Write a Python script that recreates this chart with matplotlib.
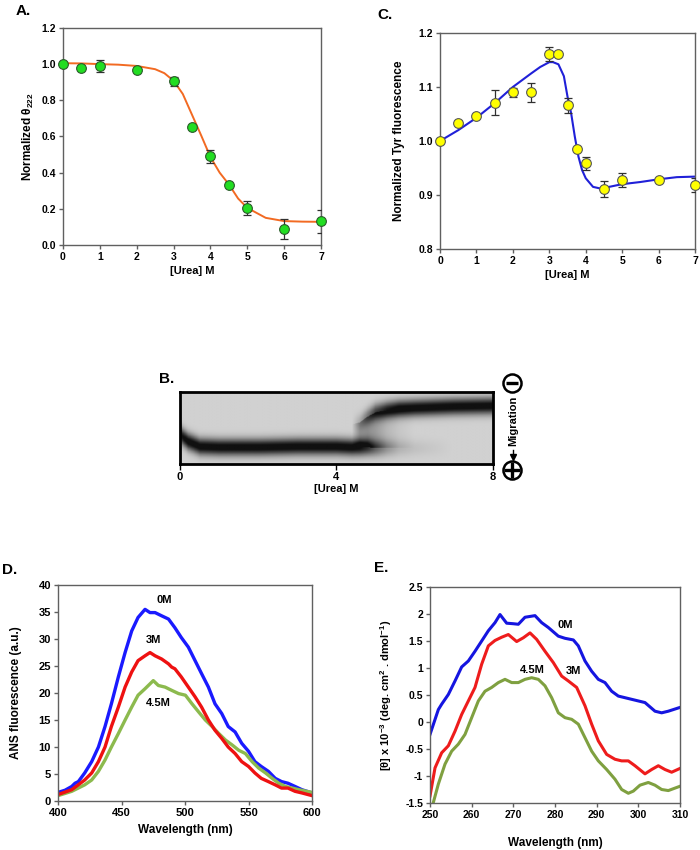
import matplotlib
matplotlib.use("Agg")
import matplotlib.pyplot as plt
import numpy as np

plt.rcParams['font.family'] = ['Liberation Sans', 'DejaVu Sans']
plt.rcParams['font.weight'] = 'bold'
plt.rcParams['axes.unicode_minus'] = False
plt.rcParams['mathtext.fontset'] = 'custom'
plt.rcParams['mathtext.rm'] = 'Liberation Sans'
plt.rcParams['mathtext.bf'] = 'Liberation Sans:bold'

################### Dados ###################

# A. CD 222 nm
a_urea = [0, 0.5, 1, 2, 3, 3.5, 4, 4.5, 5, 6, 7]
a_theta = [1.0, 0.98, 0.99, 0.97, 0.905, 0.65, 0.49, 0.33, 0.205, 0.09, 0.13]
a_err = [0, 0, 0.035, 0, 0.025, 0, 0.035, 0, 0.04, 0.055, 0.065]
a_fit_x = [0, 0.5, 1, 1.5, 2, 2.5, 2.75, 3, 3.25, 3.5, 3.75, 4, 4.25, 4.5, 4.75, 5, 5.5, 6, 6.5, 7]
a_fit_y = [1.005, 1.004, 1.0, 0.997, 0.99, 0.972, 0.95, 0.908, 0.835, 0.72, 0.605, 0.486, 0.40, 0.335, 0.257, 0.205, 0.15, 0.132, 0.129, 0.128]

# C. Tyr fluorescence
c_urea = [0, 0.5, 1, 1.5, 2, 2.5, 3, 3.25, 3.5, 3.75, 4, 4.5, 5, 6, 7]
c_fluo = [1.0, 1.034, 1.047, 1.071, 1.09, 1.09, 1.161, 1.161, 1.066, 0.986, 0.959, 0.911, 0.928, 0.928, 0.918]
c_err = [0, 0, 0, 0.023, 0.008, 0.018, 0.013, 0, 0.014, 0, 0.012, 0.015, 0.013, 0, 0.013]
c_fit_x = [0, 0.5, 1, 1.5, 2, 2.5, 2.75, 3, 3.1, 3.25, 3.4, 3.5, 3.6, 3.7, 3.8, 3.9, 4.0, 4.2, 4.4, 4.5, 5, 5.5, 6, 6.5, 7]
c_fit_y = [1.0, 1.02, 1.043, 1.07, 1.10, 1.125, 1.137, 1.146, 1.146, 1.142, 1.12, 1.082, 1.051, 1.008, 0.971, 0.946, 0.931, 0.915, 0.912, 0.913, 0.92, 0.924, 0.929, 0.933, 0.934]

# B. Gel (posicao relativa das bandas por concentracao de ureia)
gel_urea = [0, 0.2, 0.5, 1, 2, 3, 4, 4.4, 4.6, 4.8, 5.0, 5.3, 5.6, 6, 7, 8]
lower_pos = [0.60, 0.69, 0.76, 0.77, 0.77, 0.76, 0.76, 0.77, 0.77, 0.77, 0.78, 0.78, 0.78, 0.78, 0.78, 0.78]
lower_int = [0.9, 1.0, 1.0, 1.0, 1.0, 1.0, 1.0, 1.0, 0.95, 0.8, 0.55, 0.3, 0.15, 0.08, 0.0, 0.0]
upper_pos = [0.45, 0.45, 0.45, 0.45, 0.45, 0.45, 0.45, 0.45, 0.42, 0.34, 0.28, 0.25, 0.23, 0.22, 0.20, 0.19]
upper_int = [0, 0, 0, 0, 0, 0, 0, 0, 0.2, 0.45, 0.7, 0.9, 1.0, 1.0, 1.0, 1.0]
smear_int = [0, 0, 0, 0, 0, 0, 0, 0, 0.25, 0.3, 0.25, 0.12, 0.05, 0, 0, 0]

# D. ANS fluorescence
d_wl_0 = [400, 405.5, 410.8, 413.4, 416, 421, 426.5, 431.8, 437, 442, 447.5, 452.8, 458, 463, 468.5, 472.4, 476.4, 481.6, 487, 492, 497, 502.6, 507.9, 513, 518.4, 523.6, 528.9, 534, 539.4, 544.6, 550, 555, 560, 565.6, 571, 576, 581, 586.6, 592, 600]
d_0M = [1.6, 2.0, 2.7, 3.3, 3.6, 5.2, 7.3, 10, 13.8, 18, 23, 27.5, 31.5, 34, 35.5, 34.9, 34.9, 34.3, 33.7, 32.1, 30.3, 28.5, 26, 23.6, 21.1, 18, 16.2, 13.8, 12.8, 10.7, 9.2, 7.3, 6.4, 5.5, 4.2, 3.6, 3.3, 2.7, 2.1, 1.5]
d_wl_3 = [400, 410.8, 421, 426.5, 431.8, 437, 442, 447.5, 452.8, 458, 463, 468.5, 472.4, 476.4, 481.6, 487, 489.5, 492, 497, 502.6, 507.9, 513, 518.4, 523.6, 528.9, 534, 539.4, 544.6, 550, 555, 560, 565.6, 571, 576, 581, 586.6, 592, 600]
d_3M = [1.2, 2.1, 3.9, 5.2, 7.3, 10, 13.8, 17.4, 21.1, 23.9, 26, 26.9, 27.5, 26.9, 26.3, 25.4, 24.8, 24.5, 23, 21.1, 19.3, 17.4, 15, 13.1, 11.6, 10, 8.8, 7.3, 6.4, 5.2, 4.2, 3.6, 3.0, 2.4, 2.4, 1.8, 1.5, 1.0]
d_wl_45 = [400, 410.8, 421, 426.5, 431.8, 437, 442, 447.5, 452.8, 458, 463, 468.5, 475, 479, 484.3, 489.5, 494.9, 500.3, 505.5, 510.7, 516, 521.3, 526.6, 531.8, 537, 542.3, 547.5, 552.8, 558, 563.4, 568.6, 573.8, 579, 584.4, 589.6, 600]
d_45M = [1.0, 1.8, 3.0, 3.9, 5.5, 7.6, 10, 12.5, 15, 17.4, 19.6, 20.8, 22.3, 21.4, 21.1, 20.5, 19.9, 19.6, 18, 16.5, 15, 13.8, 12.5, 11.3, 10.4, 9.4, 8.8, 7.3, 6.1, 5.2, 4.2, 3.3, 2.7, 2.4, 2.1, 1.6]

# E. Near-UV CD
e_wl_0 = [250, 252, 252.8, 254.4, 256, 257.6, 259.2, 260.8, 262.4, 264, 265.6, 266.8, 268.4, 270, 271.2, 272.8, 275.2, 276.8, 278.4, 280.8, 282.4, 284.4, 285.6, 287.2, 288.8, 290.4, 292, 293.6, 295.2, 298.4, 301.6, 304, 305.6, 307.2, 310]
e_0M = [-0.23, 0.23, 0.33, 0.51, 0.76, 1.02, 1.13, 1.31, 1.5, 1.69, 1.84, 1.99, 1.83, 1.82, 1.81, 1.94, 1.97, 1.84, 1.75, 1.59, 1.55, 1.52, 1.41, 1.13, 0.94, 0.79, 0.73, 0.57, 0.48, 0.42, 0.36, 0.20, 0.17, 0.20, 0.27]
e_wl_3 = [250, 251.2, 252.8, 254.4, 256, 257.6, 259.2, 260.8, 262.4, 264, 265.6, 267.2, 268.8, 270.8, 272.4, 274, 275.6, 277.6, 279.6, 281.6, 283.2, 285.2, 287.2, 288.8, 290.4, 292.4, 294.4, 296, 297.6, 299.2, 301.6, 303.2, 304.8, 306.4, 308, 310]
e_3M = [-1.37, -0.85, -0.57, -0.44, -0.17, 0.14, 0.39, 0.64, 1.07, 1.41, 1.51, 1.57, 1.62, 1.49, 1.56, 1.65, 1.53, 1.31, 1.10, 0.85, 0.76, 0.64, 0.30, -0.04, -0.35, -0.6, -0.69, -0.72, -0.72, -0.81, -0.96, -0.88, -0.81, -0.88, -0.93, -0.86]
e_wl_45 = [250.8, 252, 253.6, 255.2, 256.8, 258.4, 260, 261.6, 263.2, 264.8, 266.4, 268, 269.6, 271.2, 272.8, 274.4, 276, 277.6, 279.2, 280.8, 282.4, 284, 285.6, 287.2, 288.8, 290.4, 292.4, 294.4, 296, 297.6, 298.8, 300.4, 302.4, 304, 305.6, 307.2, 310]
e_45M = [-1.49, -1.15, -0.78, -0.54, -0.41, -0.23, 0.08, 0.39, 0.57, 0.64, 0.73, 0.79, 0.73, 0.73, 0.79, 0.82, 0.79, 0.67, 0.45, 0.17, 0.08, 0.05, -0.04, -0.29, -0.54, -0.72, -0.88, -1.06, -1.25, -1.32, -1.28, -1.17, -1.12, -1.17, -1.25, -1.27, -1.19]

################### Figura ###################

fig = plt.figure(figsize=(7, 8.5), dpi=100)
spine_col = '#606060'
tick_fs = 7.5


def style_axes(ax, fs=tick_fs):
    for s in ax.spines.values():
        s.set_color(spine_col)
        s.set_linewidth(1)
    ax.tick_params(direction='out', length=3, width=1, color=spine_col,
                   labelsize=fs, pad=2)
    for lab in ax.get_xticklabels() + ax.get_yticklabels():
        lab.set_fontweight('bold')


# ---------- A ----------
axA = fig.add_axes([0.09, 0.7118, 0.3686, 0.2553])
axA.plot(a_fit_x, a_fit_y, color='#f26a22', lw=1.4, zorder=2)
axA.errorbar(a_urea, a_theta, yerr=a_err, fmt='none', ecolor='#303030',
             elinewidth=0.9, capsize=3, capthick=0.9, zorder=3)
axA.plot(a_urea, a_theta, 'o', ms=7, mfc='#22dd22', mec='#2a5a2a', mew=0.8,
         zorder=4, clip_on=False)
axA.set_xlim(0, 7)
axA.set_ylim(0, 1.2)
axA.set_xticks(range(8))
axA.set_yticks(np.arange(0, 1.21, 0.2))
axA.set_yticklabels(['%.1f' % v for v in np.arange(0, 1.21, 0.2)])
axA.set_xlabel('[Urea] M', fontsize=8, fontweight='bold', labelpad=3)
axA.set_ylabel('Normalized θ$_{\\mathbf{222}}$', fontsize=8.5, fontweight='bold',
               labelpad=4)
style_axes(axA)
fig.text(0.033, 0.987, 'A.', fontsize=11, fontweight='bold', ha='center', va='center')

# ---------- C ----------
axC = fig.add_axes([0.6286, 0.7071, 0.3643, 0.2541])
axC.plot(c_fit_x, c_fit_y, color='#2020d8', lw=1.5, zorder=2)
axC.errorbar(c_urea, c_fluo, yerr=c_err, fmt='none', ecolor='#303030',
             elinewidth=0.9, capsize=3, capthick=0.9, zorder=3)
axC.plot(c_urea, c_fluo, 'o', ms=7, mfc='#ffff00', mec='#555555', mew=0.8,
         zorder=4, clip_on=False)
axC.set_xlim(0, 7)
axC.set_ylim(0.8, 1.2)
axC.set_xticks(range(8))
axC.set_yticks([0.8, 0.9, 1.0, 1.1, 1.2])
axC.set_yticklabels(['0.8', '0.9', '1.0', '1.1', '1.2'])
axC.set_xlabel('[Urea] M', fontsize=8, fontweight='bold', labelpad=3)
axC.set_ylabel('Normalized Tyr fluorescence', fontsize=8.5, fontweight='bold', labelpad=10)
style_axes(axC)
fig.text(0.55, 0.982, 'C.', fontsize=11, fontweight='bold', ha='center', va='center')

# ---------- B (gel) ----------
axB = fig.add_axes([0.2571, 0.4541, 0.4471, 0.0847])
cols = np.linspace(0, 8, 400)
rows = np.linspace(0, 1, 120)[:, None]
lp = np.interp(cols, gel_urea, lower_pos)
li = np.interp(cols, gel_urea, lower_int)
up = np.interp(cols, gel_urea, upper_pos)
ui = np.interp(cols, gel_urea, upper_int)
si = np.interp(cols, gel_urea, smear_int)
dark = li * np.exp(-((rows - lp) / 0.115) ** 2) + ui * np.exp(-((rows - up) / 0.115) ** 2)
dark += si * ((rows > up) & (rows < lp))
dark = np.clip(1.08 * dark, 0, 1)
gel = 0.82 * (1 - 0.92 * dark)
axB.imshow(gel, cmap='gray', vmin=0, vmax=1, extent=[0, 8, 1, 0],
           aspect='auto', interpolation='bilinear')
axB.set_xlim(0, 8)
axB.set_ylim(1, 0)
axB.set_xticks([0, 4, 8])
axB.set_yticks([])
for s in axB.spines.values():
    s.set_color('black')
    s.set_linewidth(2)
axB.tick_params(direction='out', length=4, width=1, labelsize=8, pad=2)
for lab in axB.get_xticklabels():
    lab.set_fontweight('bold')
axB.set_xlabel('[Urea] M', fontsize=8, fontweight='bold', labelpad=1)
fig.text(0.238, 0.5545, 'B.', fontsize=11, fontweight='bold', ha='center', va='center')

# sinal de migracao ao lado do gel
fig.text(0.7335, 0.5047, 'Migration', rotation=90, fontsize=8, fontweight='bold',
         ha='center', va='center')
fig.add_artist(plt.Line2D([0.731], [0.5497], marker='o', ms=13, mfc='white',
                          mec='black', mew=1.8))
fig.add_artist(plt.Line2D([0.731], [0.5497], marker='_', ms=8, mec='black', mew=2.4))
fig.add_artist(plt.Line2D([0.731], [0.4471], marker='o', ms=13, mfc='white',
                          mec='black', mew=1.8))
fig.add_artist(plt.Line2D([0.731], [0.4471], marker='+', ms=11, mec='black', mew=2.4))
fig.add_artist(plt.Line2D([0.7335, 0.7335], [0.4705, 0.4640], color='black', lw=1))
fig.add_artist(plt.Line2D([0.7335], [0.4625], marker='v', ms=4, mfc='black', mec='black'))

# ---------- D ----------
axD = fig.add_axes([0.0829, 0.0576, 0.3629, 0.2541])
axD.plot(d_wl_0, d_0M, color='#1a1aff', lw=2.4)
axD.plot(d_wl_45, d_45M, color='#8cba4e', lw=2.4)
axD.plot(d_wl_3, d_3M, color='#ee1111', lw=2.4)
axD.set_xlim(400, 600)
axD.set_ylim(0, 40)
axD.set_xticks([400, 450, 500, 550, 600])
axD.set_yticks(range(0, 41, 5))
axD.set_xlabel('Wavelength (nm)', fontsize=8.5, fontweight='bold', labelpad=4)
axD.set_ylabel('ANS fluorescence (a.u.)', fontsize=8.5, fontweight='bold', labelpad=12)
style_axes(axD, fs=8)
axD.text(484, 37.2, '0M', fontsize=8, fontweight='bold', ha='center', va='center')
axD.text(474.8, 29.8, '3M', fontsize=8, fontweight='bold', ha='center', va='center')
axD.text(478.7, 18.1, '4.5M', fontsize=8, fontweight='bold', ha='center', va='center')
fig.text(0.014, 0.329, 'D.', fontsize=11, fontweight='bold', ha='center', va='center')

# ---------- E ----------
axE = fig.add_axes([0.6143, 0.0553, 0.3571, 0.2541])
axE.plot(e_wl_0, e_0M, color='#1515e0', lw=2.2)
axE.plot(e_wl_3, e_3M, color='#ee1c1c', lw=2.2)
axE.plot(e_wl_45, e_45M, color='#7fa040', lw=2.2)
axE.set_xlim(250, 310)
axE.set_ylim(-1.5, 2.5)
axE.set_xticks(range(250, 311, 10))
e_yt = [-1.5, -1, -0.5, 0, 0.5, 1, 1.5, 2, 2.5]
axE.set_yticks(e_yt)
axE.set_yticklabels(['%g' % v for v in e_yt])
axE.set_xlabel('Wavelength (nm)', fontsize=8.5, fontweight='bold', labelpad=12)
axE.set_ylabel('[θ] x 10$^{\\mathbf{-3}}$ (deg. cm$^{\\mathbf{2}}$ . dmol$^{\\mathbf{-1}}$)',
               fontsize=8, fontweight='bold', labelpad=8)
style_axes(axE, fs=7.5)
axE.text(282.4, 1.80, '0M', fontsize=8, fontweight='bold', ha='center', va='center')
axE.text(284.4, 0.94, '3M', fontsize=8, fontweight='bold', ha='center', va='center')
axE.text(274.6, 0.96, '4.5M', fontsize=8, fontweight='bold', ha='center', va='center')
fig.text(0.545, 0.332, 'E.', fontsize=11, fontweight='bold', ha='center', va='center')

plt.savefig('out.png', dpi=100)
